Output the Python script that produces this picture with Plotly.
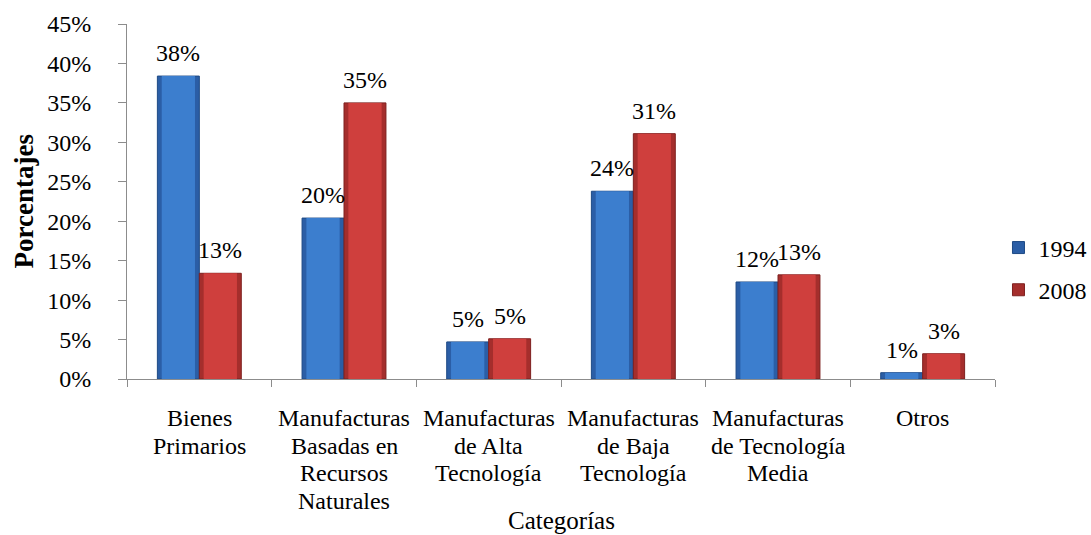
import plotly.graph_objects as go

categories = [
    "Bienes<br>Primarios",
    "Manufacturas<br>Basadas en<br>Recursos<br>Naturales",
    "Manufacturas<br>de Alta<br>Tecnología",
    "Manufacturas<br>de Baja<br>Tecnología",
    "Manufacturas<br>de Tecnología<br>Media",
    "Otros",
]
share_1994 = [0.384, 0.204, 0.047, 0.238, 0.123, 0.008]
share_2008 = [0.134, 0.350, 0.051, 0.311, 0.132, 0.032]
y_ticks = [0, 0.05, 0.10, 0.15, 0.20, 0.25, 0.30, 0.35, 0.40, 0.45]

FONT = "Liberation Serif, Tinos, Times New Roman, DejaVu Serif, serif"
W, H = 1091, 535
ML, MR, MT, MB = 127, 96, 24, 156
BAR_W = 0.29          # bar width in category units
INSET = 0.03          # bevel inset in category units

plot_w = W - ML - MR
cat_px = plot_w / len(categories)
half_off = BAR_W * cat_px / 2

series = [
    ("1994", share_1994, -BAR_W, "#2B5EA6", "#3C7ECE", "#1E4A85"),
    ("2008", share_2008, 0.0, "#A52E2C", "#CF3F3D", "#7E201F"),
]

fig = go.Figure()
for name, values, offset, edge, face, outline in series:
    n = len(values)
    # outer bar with darker bevel edge
    fig.add_trace(go.Bar(
        name=name, x=categories, y=values, legendgroup=name,
        width=[BAR_W] * n, offset=[offset] * n,
        marker=dict(color=face, line=dict(color=outline, width=1)),
        hoverinfo="skip",
    ))
for name, values, offset, edge, face, outline in series:
    n = len(values)
    # lighter inner face
    fig.add_trace(go.Bar(
        name=name, x=categories, y=values, legendgroup=name, showlegend=False,
        width=[BAR_W - 2 * INSET] * n, offset=[offset + INSET] * n,
        marker=dict(color=face, line=dict(width=0)),
        hoverinfo="skip",
    ))
# darken the outer bars so the inner face reads as a bevel
fig.data[0].marker.color = series[0][3]
fig.data[1].marker.color = series[1][3]

annotations = []
# value labels above each bar
for values, shift in ((share_1994, -half_off), (share_2008, half_off)):
    for cat, v in zip(categories, values):
        annotations.append(dict(
            x=cat, y=v, xref="x", yref="y", text=f"{v:.0%}",
            showarrow=False, xanchor="center", yanchor="bottom",
            xshift=shift, yshift=8,
            font=dict(family=FONT, size=24, color="black"),
        ))

# multi-line category names under the axis
LINE_H = 27.5
for cat in categories:
    for i, line in enumerate(cat.split("<br>")):
        annotations.append(dict(
            x=cat, y=0, xref="x", yref="y", text=line,
            showarrow=False, xanchor="center", yanchor="middle",
            yshift=-(39 + LINE_H * i),
            font=dict(family=FONT, size=24, color="black"),
        ))

# axis titles
annotations.append(dict(
    x=0.5, y=0, xref="paper", yref="paper", text="Categorías",
    showarrow=False, xanchor="center", yanchor="middle", yshift=-141,
    font=dict(family=FONT, size=25, color="black"),
))
annotations.append(dict(
    x=0, y=0.5, xref="paper", yref="paper", text="<b>Porcentajes</b>",
    showarrow=False, xanchor="center", yanchor="middle", xshift=-104,
    textangle=-90,
    font=dict(family=FONT, size=27, color="black"),
))

fig.update_layout(
    width=W, height=H,
    margin=dict(l=ML, r=MR, t=MT, b=MB, autoexpand=False),
    paper_bgcolor="white", plot_bgcolor="white",
    barmode="overlay",
    font=dict(family=FONT, color="black"),
    showlegend=True,
    legend=dict(
        x=1.004, y=0.31, xanchor="left", yanchor="middle",
        font=dict(family=FONT, size=24, color="black"),
        itemwidth=30, traceorder="grouped", tracegroupgap=8,
    ),
    annotations=annotations,
)
fig.update_xaxes(
    showline=True, linecolor="#8C8C8C", linewidth=1,
    ticks="outside", tickson="boundaries", ticklen=7, tickcolor="#8C8C8C",
    showticklabels=False, showgrid=False,
)
fig.update_yaxes(
    range=[0, 0.45], tickvals=y_ticks, tickformat=".0%",
    showline=True, linecolor="#8C8C8C", linewidth=1,
    ticks="outside", ticklen=8, tickcolor="#8C8C8C",
    ticklabelstandoff=22,
    tickfont=dict(family=FONT, size=24, color="black"),
    showgrid=False, zeroline=False,
)

fig.write_html("out.html")
